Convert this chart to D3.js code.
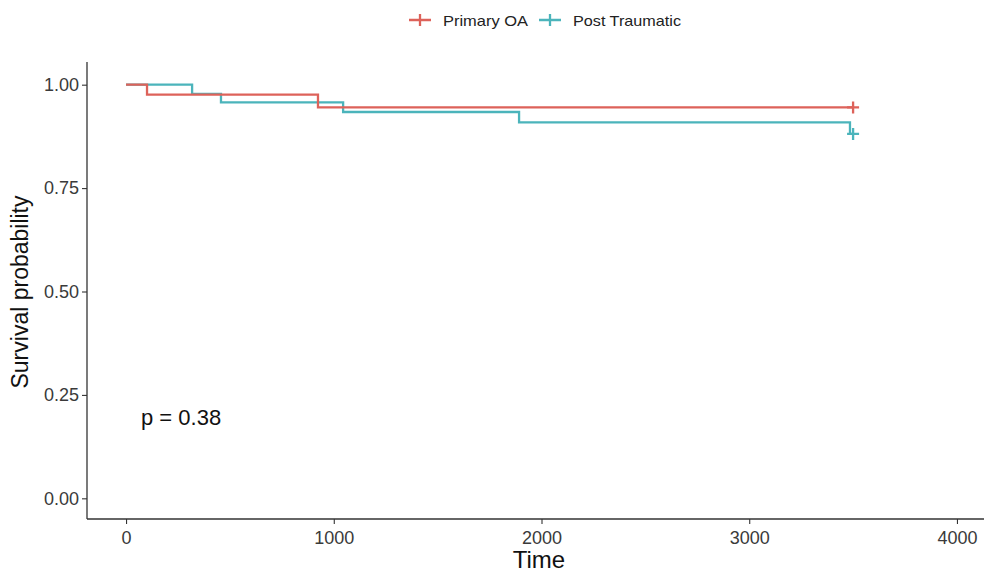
<!DOCTYPE html>
<html>
<head>
  <meta charset="utf-8">
  <script src="https://d3js.org/d3.v7.min.js"></script>
  <style>
    body { margin: 0; background: white; }
    text { font-family: "Liberation Sans", Arial, sans-serif; }
  </style>
</head>
<body>
  <svg id="chart" width="984" height="573"></svg>
  <script>
    // step data
    var groups = ["Primary OA", "Post Traumatic"];
    var colors = ["#dd625a", "#4bb4bb"];
    var primaryTime = [0, 101, 924, 3500];
    var primarySurv = [1.0, 0.976, 0.945, 0.945];
    var postTime = [0, 318, 457, 1045, 1892, 3485, 3500];
    var postSurv = [1.0, 0.978, 0.957, 0.934, 0.909, 0.881, 0.881];
    var censorTime = [3500, 3500];
    var censorSurv = [0.945, 0.881];
    var xTicks = [0, 1000, 2000, 3000, 4000];
    var yTicks = [0, 0.25, 0.5, 0.75, 1];
    var pLabel = "p = 0.38";

    var svg = d3.select("#chart");

    var x = d3.scaleLinear().domain([-200, 4200]).range([84.5, 998.5]);
    var y = d3.scaleLinear().domain([-0.05, 1.05]).range([519, 64]);

    var axisColor = "#333";

    // axes
    var xAxis = svg.append("g")
      .attr("transform", "translate(0,519)")
      .call(d3.axisBottom(x).tickValues(xTicks).tickSize(5).tickPadding(7).tickFormat(d3.format("d")));
    var yAxis = svg.append("g")
      .attr("transform", "translate(87,0)")
      .call(d3.axisLeft(y).tickValues(yTicks).tickSize(5).tickPadding(3).tickFormat(d3.format(".2f")));

    [xAxis, yAxis].forEach(function (g) {
      g.select(".domain").remove();
      g.selectAll(".tick line").attr("stroke", axisColor).attr("stroke-width", 1.1);
      g.selectAll(".tick text").attr("fill", "#3a3a3a").style("font-size", "18px");
    });

    svg.append("line").attr("x1", 87).attr("x2", 984).attr("y1", 519).attr("y2", 519)
      .attr("stroke", axisColor).attr("stroke-width", 1.3);
    svg.append("line").attr("x1", 87).attr("x2", 87).attr("y1", 62).attr("y2", 519)
      .attr("stroke", axisColor).attr("stroke-width", 1.3);

    // survival curves
    var series = [
      { t: primaryTime, s: primarySurv },
      { t: postTime, s: postSurv }
    ];
    var line = d3.line()
      .x(function (d) { return x(d[0]); })
      .y(function (d) { return y(d[1]); })
      .curve(d3.curveStepAfter);

    // draw teal first so red sits on top where they overlap
    [1, 0].forEach(function (i) {
      var pts = series[i].t.map(function (t, j) { return [t, series[i].s[j]]; });
      svg.append("path")
        .attr("d", line(pts))
        .attr("fill", "none")
        .attr("stroke", colors[i])
        .attr("stroke-width", 2.3);
    });

    // censor marks
    censorTime.forEach(function (t, i) {
      var cx = x(t), cy = y(censorSurv[i]);
      svg.append("path")
        .attr("d", "M" + (cx - 6) + "," + cy + "H" + (cx + 6) + "M" + cx + "," + (cy - 6) + "V" + (cy + 6))
        .attr("stroke", colors[i])
        .attr("stroke-width", 2.3);
    });

    // p value
    svg.append("text").attr("x", 141).attr("y", 425)
      .style("font-size", "22px").attr("fill", "#111").text(pLabel);

    // axis titles
    svg.append("text").attr("x", 539).attr("y", 568).attr("text-anchor", "middle")
      .style("font-size", "24px").attr("fill", "#111").text("Time");
    svg.append("text").attr("transform", "translate(28,292) rotate(-90)").attr("text-anchor", "middle")
      .style("font-size", "23px").attr("fill", "#111").text("Survival probability");

    // legend
    var legX = [420, 550];
    var legW = [85, 108];
    groups.forEach(function (g, i) {
      var lx = legX[i], ly = 20;
      svg.append("path")
        .attr("d", "M" + (lx - 11) + "," + ly + "H" + (lx + 11) + "M" + lx + "," + (ly - 6) + "V" + (ly + 6))
        .attr("stroke", colors[i]).attr("stroke-width", 2.3);
      svg.append("text").attr("x", lx + 23).attr("y", ly + 6)
        .attr("textLength", legW[i]).attr("lengthAdjust", "spacingAndGlyphs")
        .style("font-size", "15px").attr("fill", "#222").text(g);
    });
  </script>
</body>
</html>
